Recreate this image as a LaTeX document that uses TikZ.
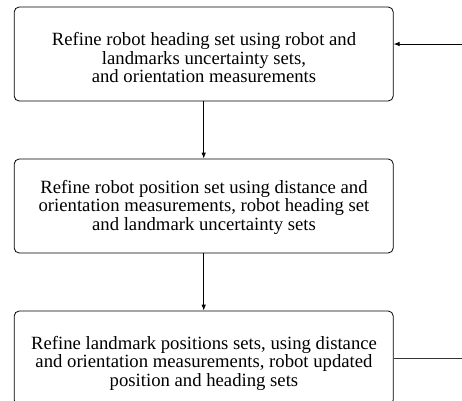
\documentclass[tikz,border=0pt]{standalone}
\usepackage{fontspec}
\setmainfont{Liberation Serif}
\usetikzlibrary{arrows.meta}
\tikzset{
  stepbox/.style={draw=black, line width=0.8pt, rounded corners=5pt, minimum width=379pt, minimum height=94pt, inner sep=0pt},
  steptext/.style={align=center, inner sep=0pt, font=\fontsize{18.7}{18.4}\selectfont},
  flow/.style={draw=black, line width=0.8pt, -{Latex[length=6pt,width=4.5pt]}},
  plain/.style={draw=black!80, line width=0.8pt}
}
\begin{document}
\begin{tikzpicture}[x=1pt,y=1pt]
\useasboundingbox (0,0) rectangle (462,-400);
\node[stepbox] (b1) at (203.7,-54) {};
\node[stepbox] (b2) at (203.7,-206) {};
\node[stepbox] (b3) at (203.7,-358) {};
\node[steptext, anchor=base] (t1) at (204,-82.5) {Refine robot heading set using robot and\\landmarks uncertainty sets,\\and orientation measurements};
\node[steptext, anchor=base] (t2) at (204,-230.1) {Refine robot position set using distance and\\orientation measurements, robot heading set\\and landmark uncertainty sets};
\node[steptext, anchor=base] (t3) at (204,-386.1) {Refine landmark positions sets, using distance\\and orientation measurements, robot updated\\position and heading sets};
\coordinate (in) at (462,-44);
\coordinate (out) at (462,-358);
\draw[flow] (b1.south) -- (b2.north);
\draw[flow] (b2.south) -- (b3.north);
\draw[flow] (in) -- (in -| b1.east);
\draw[plain] (b3.east) -- (out);
\end{tikzpicture}
\end{document}
